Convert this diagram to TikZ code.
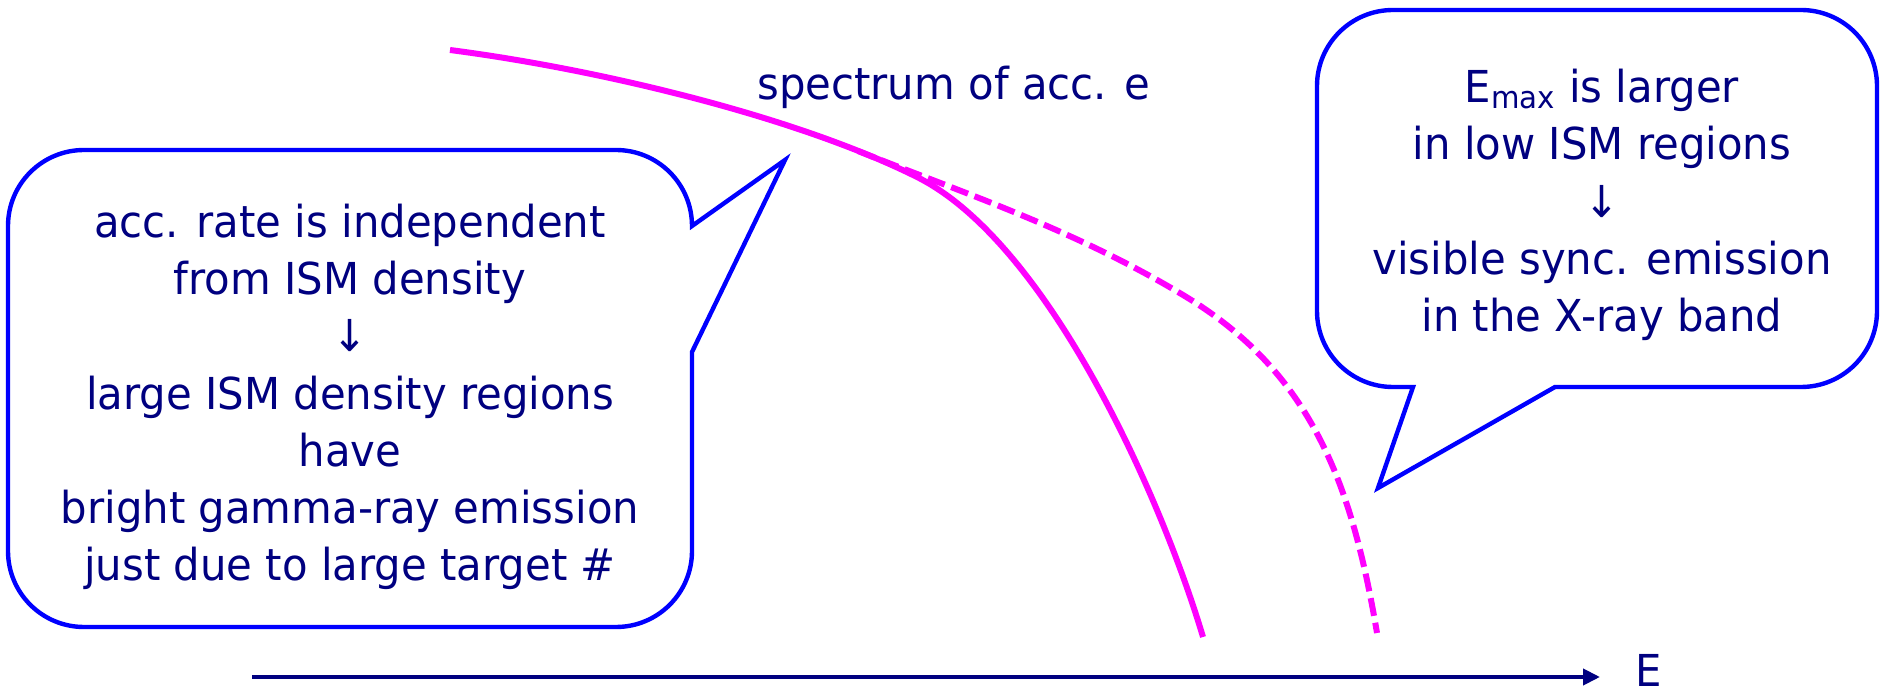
\documentclass[tikz,border=0pt]{standalone}
\usepackage{fontspec}
\setmainfont{DejaVu Sans}[FakeStretch=0.95]
\usetikzlibrary{arrows.meta}
\definecolor{navytext}{HTML}{000080}
\definecolor{calloutblue}{HTML}{0000FF}
\definecolor{specmag}{HTML}{FF00FF}
\begin{document}
\begin{tikzpicture}[x=0.5pt,y=-0.5pt,
  callout/.style={draw=calloutblue, line width=2.2pt, line join=miter, fill=white},
  bubbletext/.style={text=navytext, align=center, font=\fontsize{22}{28.6}\selectfont, inner sep=0pt},
  plaintext/.style={text=navytext, font=\fontsize{22}{28.6}\selectfont, inner sep=0pt},
  specline/.style={draw=specmag, line width=3pt},
  specdashed/.style={draw=specmag, line width=3pt, dash pattern=on 9pt off 3.5pt},
  axisline/.style={draw=navytext, line width=2pt, -{Triangle[length=8.5pt,width=8pt]}}]
\useasboundingbox (0,0) rectangle (1881,694);

% spectra
\draw[specline] (450,50) .. controls (600,69.5) and (797,117) .. (917,177)
  .. controls (1047,242) and (1160,493) .. (1203,637);
\draw[specdashed] (858,151) .. controls (966,194) and (1075,230) .. (1183,295)
  .. controls (1312,372) and (1352,485) .. (1377,633);

% left callout
\draw[callout] (692,226) -- (785,160) -- (692,352) -- (692,551)
  .. controls (692,593) and (658,627) .. (616,627) -- (84,627)
  .. controls (42,627) and (8,593) .. (8,551) -- (8,226)
  .. controls (8,184) and (42,150) .. (84,150) -- (616,150)
  .. controls (658,150) and (692,184) .. (692,226) -- cycle;

% right callout
\draw[callout] (1413,387) -- (1378,488) -- (1555,387) -- (1801,387)
  .. controls (1843,387) and (1877,353) .. (1877,311) -- (1877,86)
  .. controls (1877,44) and (1843,10) .. (1801,10) -- (1393,10)
  .. controls (1351,10) and (1317,44) .. (1317,86) -- (1317,311)
  .. controls (1317,353) and (1351,387) .. (1393,387) -- cycle;

\node[bubbletext] (lefttext) at (350,397) {acc. rate is independent\\from ISM density\\↓\\large ISM density regions\\have\\bright gamma-ray emission\\just due to large target \#};
\node[bubbletext] (righttext) at (1602,205) {E\textsubscript{max} is larger\\in low ISM regions\\↓\\visible sync. emission\\in the X-ray band};
\node[plaintext, anchor=base west] (speclabel) at (757,100) {spectrum of acc. e};

% axis
\coordinate (axstart) at (252,677);
\coordinate (axend) at (1600,677);
\draw[axisline] (axstart) -- (axend);
\node[plaintext, anchor=base west] (elabel) at (1635,687) {E};
\end{tikzpicture}
\end{document}
